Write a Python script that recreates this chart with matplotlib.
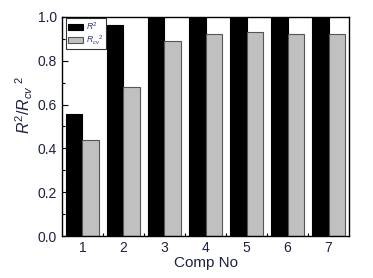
import matplotlib
matplotlib.use("Agg")
import matplotlib.pyplot as plt
from matplotlib.ticker import MultipleLocator, FixedLocator
import numpy as np

plt.rcParams['font.family'] = 'Liberation Sans'
plt.rcParams['mathtext.fontset'] = 'custom'
plt.rcParams['mathtext.rm'] = 'Liberation Sans'
plt.rcParams['mathtext.it'] = 'Liberation Sans:italic'

comps = [1, 2, 3, 4, 5, 6, 7]
r2 = [0.558, 0.962, 0.999, 0.999, 0.999, 0.999, 0.999]
r2_cv = [0.438, 0.680, 0.892, 0.922, 0.930, 0.924, 0.920]

txt = '#1a2340'

fig = plt.figure(figsize=(3.73, 2.78), dpi=100)
ax = fig.add_axes([0.166, 0.151, 0.77, 0.788])

x = np.array(comps)
w = 0.41
ax.bar(x - w / 2, r2, w, color='black', edgecolor='black', linewidth=0.8, label='$R^2$')
ax.bar(x + w / 2, r2_cv, w, color='#c0c0c0', edgecolor='#555555', linewidth=0.8,
       label='$R_{cv}{}^{2}$')

ax.set_xlim(0.5, 7.5)
ax.set_ylim(0, 1.0)
ax.set_xticks(comps)
ax.xaxis.set_minor_locator(FixedLocator(np.arange(1.5, 7.5, 1)))
ax.yaxis.set_major_locator(MultipleLocator(0.2))
ax.yaxis.set_minor_locator(MultipleLocator(0.1))
ax.tick_params(which='both', direction='in', colors='black', labelcolor=txt, labelsize=10)
ax.tick_params(which='major', length=4, width=0.8)
ax.tick_params(which='minor', length=2.5, width=0.8)
ax.tick_params(axis='x', which='major', length=0)
for s in ax.spines.values():
    s.set_linewidth(1.0)

ax.set_xlabel('Comp No', fontsize=11, color=txt, labelpad=1)
ax.set_ylabel('$R^2/R_{cv}{}^{\\ 2}$', fontsize=11.5, color=txt)
ax.yaxis.set_label_coords(-0.095, 0.6)

leg = ax.legend(loc='upper left', bbox_to_anchor=(0.014, 0.995), borderaxespad=0,
                fontsize=6.2, frameon=True, fancybox=False,
                edgecolor='black', borderpad=0.25, handlelength=1.7, handleheight=0.75,
                labelspacing=0.2, handletextpad=0.4)
leg.get_frame().set_linewidth(0.8)
for t in leg.get_texts():
    t.set_color('#2a3a8a')

fig.savefig('out.png', dpi=100)
